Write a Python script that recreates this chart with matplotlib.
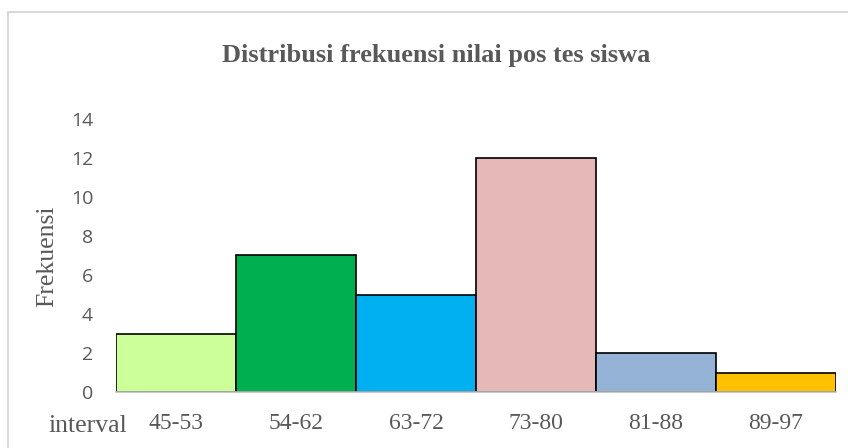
import matplotlib
matplotlib.use("Agg")
import matplotlib.pyplot as plt
from matplotlib.patches import Rectangle

categories = ["45-53", "54-62", "63-72", "73-80", "81-88", "89-97"]
frequencies = [3, 7, 5, 12, 2, 1]
colors = ["#CCFF99", "#00B050", "#00B0F0", "#E6B9B8", "#95B3D7", "#FFC000"]
y_ticks = [0, 2, 4, 6, 8, 10, 12, 14]

W, H = 848, 448
fig = plt.figure(figsize=(W / 100, H / 100), dpi=100)
fig.patch.set_facecolor("white")

# chart-area border (top and left visible)
fig.patches.append(Rectangle((8 / W, -0.1), 1.2, 1 - 12 / H + 0.1,
                             transform=fig.transFigure, fill=False,
                             edgecolor="#D9D9D9", linewidth=1.5))

ax = fig.add_axes([116 / W, 1 - 392 / H, 720 / W, (392 - 119) / H])
x = list(range(len(categories)))
ax.bar(x, frequencies, width=1.0, color=colors, edgecolor="black",
       linewidth=1.2, zorder=3)
ax.set_xlim(-0.5, len(categories) - 0.5)
ax.set_ylim(0, 14)
ax.set_yticks(y_ticks)
ax.set_yticklabels([str(v) for v in y_ticks], family="Open Sans",
                   fontsize=14, color="#595959")
ax.tick_params(axis="y", length=0, pad=16.5)
ax.set_xticks(x)
ax.set_xticklabels(categories, family="Liberation Serif", fontsize=17,
                   color="#595959")
ax.tick_params(axis="x", length=0, pad=15)
for s in ["top", "right", "left"]:
    ax.spines[s].set_visible(False)
ax.spines["bottom"].set_color("#BFBFBF")
ax.spines["bottom"].set_linewidth(1.2)
ax.spines["bottom"].set_zorder(4)

fig.text(47 / W, 1 - 256 / H, "Frekuensi", family="Liberation Serif",
         fontsize=18.5, color="#595959", rotation=90,
         ha="center", va="center")

fig.text(88 / W, 1 - 432 / H, "interval", family="Liberation Serif",
         fontsize=18.5, color="#595959", ha="center", va="baseline")

fig.text(436 / W, 1 - 62 / H, "Distribusi frekuensi nilai pos tes siswa",
         family="Liberation Serif", fontweight="bold", fontsize=19,
         color="#595959", ha="center", va="baseline")

fig.savefig("out.png", dpi=100)
